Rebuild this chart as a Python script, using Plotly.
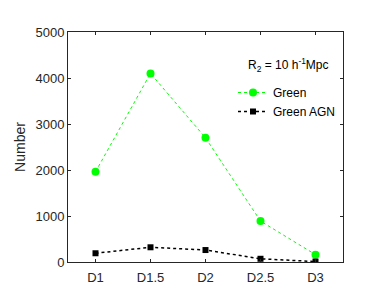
import plotly.graph_objects as go

categories = ["D1", "D1.5", "D2", "D2.5", "D3"]
green = [1960, 4100, 2700, 890, 160]
green_agn = [190, 320, 260, 70, 10]
yticks = [0, 1000, 2000, 3000, 4000, 5000]

xpos = list(range(1, len(categories) + 1))
axcol = "#262626"
font = dict(family="Liberation Sans, Arial, sans-serif", size=13, color=axcol)

fig = go.Figure()
fig.add_trace(go.Scatter(x=xpos, y=green, name="Green", mode="lines+markers",
                         line=dict(color="#00ff00", width=1, dash="dot"),
                         marker=dict(symbol="circle", size=8, color="#00ff00")))
fig.add_trace(go.Scatter(x=xpos, y=green_agn, name="Green AGN", mode="lines+markers",
                         line=dict(color="black", width=1.5, dash="dot"),
                         marker=dict(symbol="square", size=6, color="black")))

# page body has an 8px margin; figure is sized to fit the 382x305 window
fig.update_layout(
    width=366, height=289, margin=dict(l=50, r=31, t=24, b=35),
    paper_bgcolor="white", plot_bgcolor="white", font=font,
    showlegend=True,
    legend=dict(x=0.6, y=0.8, xanchor="left", yanchor="top", bgcolor="rgba(0,0,0,0)",
                font=dict(size=12, color="black"), itemwidth=30, tracegroupgap=0),
    xaxis=dict(range=[0.5, 5.5], tickvals=xpos, ticktext=categories, showgrid=False,
               zeroline=False, showline=True, linecolor=axcol, linewidth=1, mirror="ticks",
               ticks="inside", ticklen=3, tickcolor=axcol, ticklabelstandoff=3),
    yaxis=dict(range=[0, 5000], tickvals=yticks, showgrid=False, zeroline=False,
               showline=True, linecolor=axcol, linewidth=1, mirror="ticks",
               ticks="inside", ticklen=3, tickcolor=axcol,
               title=dict(text="Number", font=dict(size=14, color=axcol), standoff=6)),
    annotations=[dict(x=0.649, y=0.857, xref="paper", yref="paper", xanchor="left",
                      yanchor="middle", showarrow=False,
                      text="R<sub>2</sub> = 10 h<sup>-1</sup>Mpc",
                      font=dict(size=12, color="black"))],
)

fig.write_html("out.html")
